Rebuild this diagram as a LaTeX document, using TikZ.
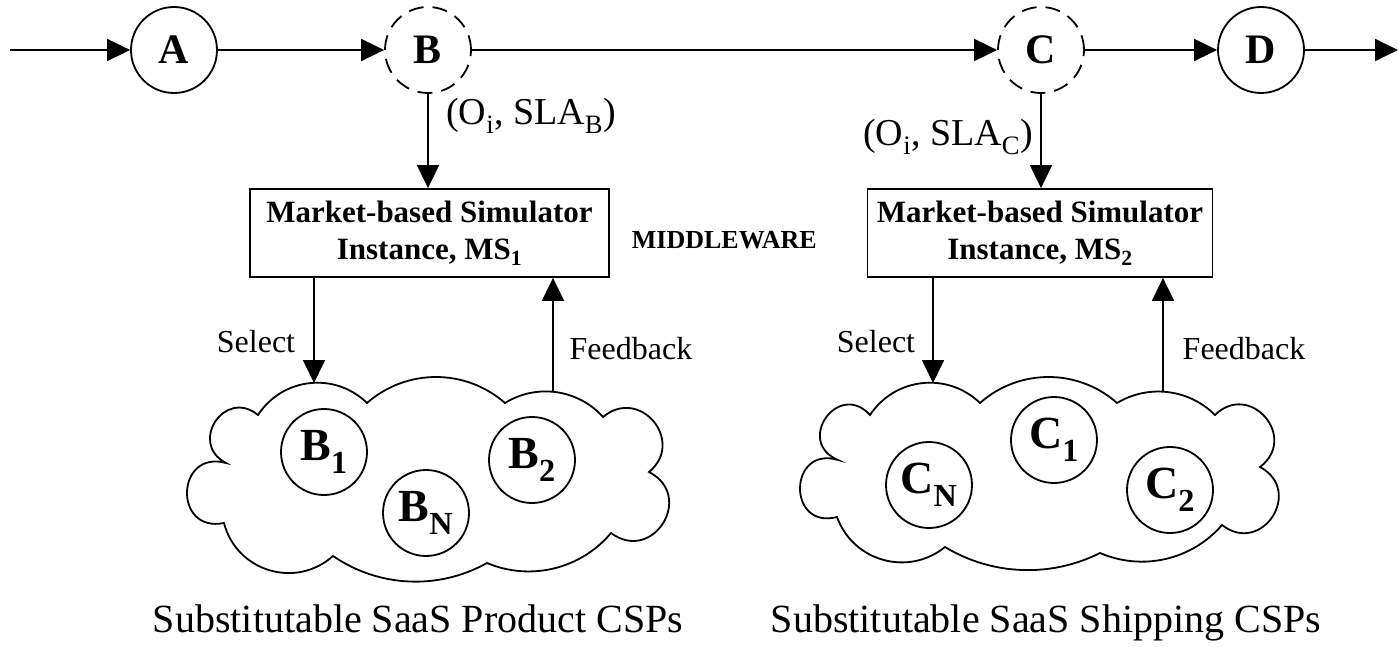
\documentclass[tikz,border=0pt]{standalone}
\usepackage{fontspec}
\setmainfont{Liberation Serif}
\usetikzlibrary{arrows.meta,calc}

% one circular-looking bulge of a cloud outline, from cusp #1 to cusp #2,
% leaving each cusp at #3 degrees off the chord, with control arm #4
\newcommand\lobe[4]{.. controls ($(#1)!#4pt!#3:(#2)$) and ($(#2)!#4pt!-#3:(#1)$) .. (#2)}

\begin{document}
\begin{tikzpicture}[x=1pt,y=-1pt,
  line width=1.8pt,
  every node/.style={inner sep=0pt},
  state/.style={circle,draw,minimum size=86pt,font=\fontsize{42}{42}\selectfont\bfseries},
  hidden/.style={state,dash pattern=on 15pt off 9pt},
  csp/.style={circle,draw,minimum size=86pt,font=\fontsize{46}{46}\selectfont\bfseries},
  msbox/.style={draw,minimum width=359pt,minimum height=88pt,align=center,
    font=\fontsize{31}{37}\selectfont\bfseries},
  arr/.style={-{Triangle[length=23pt,width=22pt]}},
  lbl/.style={font=\fontsize{32}{32}\selectfont},
  pair/.style={font=\fontsize{38}{38}\selectfont},
  caption/.style={font=\fontsize{40}{40}\selectfont,anchor=base},
]
\useasboundingbox (0,0) rectangle (1398,647);

% process chain
\node[state]  (A) at (174,50)  {A};
\node[hidden] (B) at (428,50)  {B};
\node[hidden] (C) at (1041,50) {C};
\node[state]  (D) at (1261,50) {D};
\coordinate (in)  at (10,50);
\coordinate (out) at (1398,50);
\draw[arr] (in) -- (A);
\draw[arr] (A) -- (B);
\draw[arr] (B) -- (C);
\draw[arr] (C) -- (D);
\draw[arr] (D) -- (out);

% simulator instances
\node[msbox] (M1) at (429.5,233) {Market-based Simulator\\Instance, MS\textsubscript{1}};
\node[msbox,minimum width=345pt] (M2) at (1040,233) {Market-based Simulator\\Instance, MS\textsubscript{2}};
\draw[arr] (B.south) -- (B.south |- M1.north);
\draw[arr] (C.south) -- (C.south |- M2.north);
\node[pair] (p1) at (531,116) {(O\textsubscript{i}, SLA\textsubscript{B})};
\node[pair] (p2) at (948,137) {(O\textsubscript{i}, SLA\textsubscript{C})};
\node[anchor=base west,font=\fontsize{26}{26}\selectfont\bfseries] (mw) at (631,249) {MIDDLEWARE};

% product provider cloud
\coordinate (a1) at (258,415);  \coordinate (a2) at (367,403);
\coordinate (a3) at (505,403);  \coordinate (a4) at (603,417);
\coordinate (a5) at (649,472);  \coordinate (a6) at (611,533);
\coordinate (a7) at (487,563);  \coordinate (a8) at (333,556);
\coordinate (a9) at (224,523);  \coordinate (a10) at (226,463);
\draw (a10) \lobe{a10}{a1}{95.9}{42.9} \lobe{a1}{a2}{50.7}{44.8}
  \lobe{a2}{a3}{41.3}{52.5} \lobe{a3}{a4}{40}{37.3}
  \lobe{a4}{a5}{90.2}{48} \lobe{a5}{a6}{94.7}{52.2}
  \lobe{a6}{a7}{36.5}{47.1} \lobe{a7}{a8}{31.8}{55.7}
  \lobe{a8}{a9}{58.7}{50} \lobe{a9}{a10}{103.4}{52.1} -- cycle;

% shipping provider cloud
\coordinate (b1) at (870,415);  \coordinate (b2) at (980,403);
\coordinate (b3) at (1117,403); \coordinate (b4) at (1215,415);
\coordinate (b5) at (1260,467); \coordinate (b6) at (1222,525);
\coordinate (b7) at (1100,553); \coordinate (b8) at (945,547);
\coordinate (b9) at (837,517);  \coordinate (b10) at (838,460);
\draw (b10) \lobe{b10}{b1}{102.5}{47} \lobe{b1}{b2}{50.3}{45.1}
  \lobe{b2}{b3}{41.6}{52.2} \lobe{b3}{b4}{38}{36.8}
  \lobe{b4}{b5}{93.6}{48.9} \lobe{b5}{b6}{94.8}{50.4}
  \lobe{b6}{b7}{36.2}{46.3} \lobe{b7}{b8}{28.9}{55.2}
  \lobe{b8}{b9}{54.6}{47.3} \lobe{b9}{b10}{105.6}{51.9} -- cycle;

% providers
\node[csp] (B1) at (324,452)  {B\textsubscript{1}};
\node[csp] (BN) at (426,513)  {B\textsubscript{N}};
\node[csp] (B2) at (532,460)  {B\textsubscript{2}};
\node[csp] (C1) at (1054,440) {C\textsubscript{1}};
\node[csp] (CN) at (929,485)  {C\textsubscript{N}};
\node[csp] (C2) at (1170,490) {C\textsubscript{2}};

% select / feedback loops
\coordinate (s1) at (314,383);  \coordinate (f1) at (553,392);
\coordinate (s2) at (933,383);  \coordinate (f2) at (1163,392);
\draw[arr] (M1.south -| s1) -- (s1);
\draw[arr] (f1) -- (f1 |- M1.south);
\draw[arr] (M2.south -| s2) -- (s2);
\draw[arr] (f2) -- (f2 |- M2.south);
\node[lbl,anchor=base] (sl1) at (256,352)  {Select};
\node[lbl,anchor=base] (fl1) at (631,359)  {Feedback};
\node[lbl,anchor=base] (sl2) at (876,352)  {Select};
\node[lbl,anchor=base] (fl2) at (1244,359) {Feedback};

% captions
\node[caption] (t1) at (418,632)  {Substitutable SaaS Product CSPs};
\node[caption] (t2) at (1046,632) {Substitutable SaaS Shipping CSPs};
\end{tikzpicture}
\end{document}
